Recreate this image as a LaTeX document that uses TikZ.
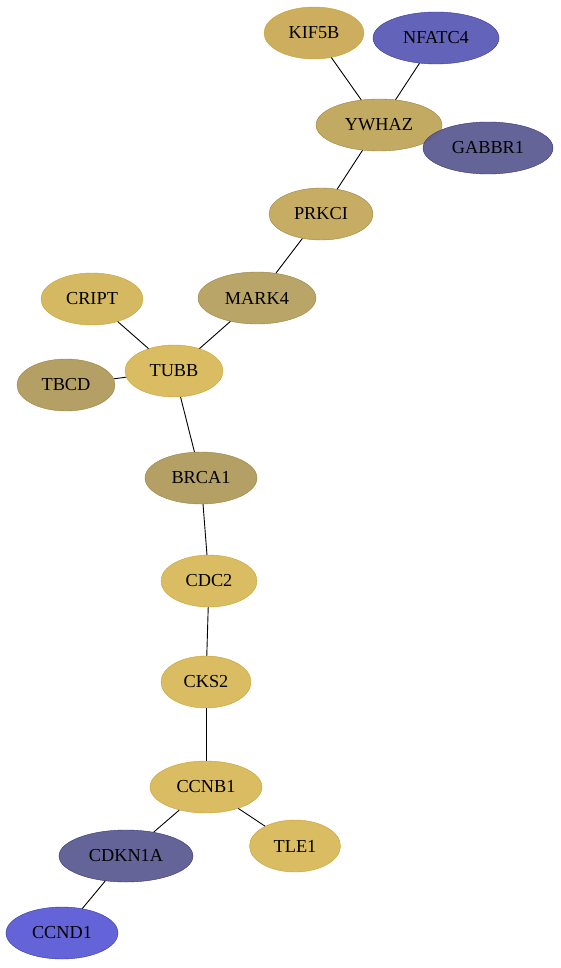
\documentclass[tikz,border=0pt]{standalone}
\usepackage{fontspec}
\setmainfont{Liberation Serif}
\usetikzlibrary{shapes.geometric}

\definecolor{goldfill}{HTML}{D8B85A}
\definecolor{goldline}{HTML}{C9A22E}
\definecolor{olivefill}{HTML}{B09A5C}
\definecolor{oliveline}{HTML}{9A8540}
\definecolor{KIF5Bc}{HTML}{C9AA55}
\definecolor{YWHAZc}{HTML}{C0A55A}
\definecolor{PRKCIc}{HTML}{C4A85C}
\definecolor{MARK4c}{HTML}{B6A060}
\definecolor{CRIPTc}{HTML}{D2B55A}
\definecolor{bluefill}{HTML}{5B5BB5}
\definecolor{blueline}{HTML}{3838A0}
\definecolor{brightblue}{HTML}{5C5CD6}
\definecolor{slatefill}{HTML}{5C5C92}
\definecolor{slateline}{HTML}{343478}

\tikzset{
  gene/.style={ellipse, draw=goldline, fill=goldfill, fill opacity=0.95, text opacity=1,
    minimum height=52pt, inner sep=0pt, font=\fontsize{18.3}{18.3}\selectfont},
  link/.style={black, line width=0.9pt}
}

\begin{document}
\begin{tikzpicture}[x=1pt, y=-1pt]
    \useasboundingbox (0,0) rectangle (560,968);

    % top cluster
    \node[gene, minimum width=100pt, fill=KIF5Bc] (kif) at (314,33) {KIF5B};
    \node[gene, minimum width=126pt, fill=bluefill, draw=blueline] (nfat) at (436,38) {NFATC4};
    \node[gene, minimum width=126pt, fill=YWHAZc, draw=oliveline] (ywhaz) at (379,125) {YWHAZ};
    \node[gene, minimum width=130pt, fill=slatefill, draw=slateline] (gabbr) at (488,148) {GABBR1};
    \node[gene, minimum width=104pt, fill=PRKCIc, draw=oliveline] (prkci) at (321,214) {PRKCI};

    % tubulin group
    \node[gene, minimum width=118pt, fill=MARK4c, draw=oliveline] (mark) at (257,298) {MARK4};
    \node[gene, minimum width=102pt, fill=CRIPTc] (cript) at (92,299) {CRIPT};
    \node[gene, minimum width=98pt] (tubb) at (174,371) {TUBB};
    \node[gene, minimum width=98pt, fill=olivefill, draw=oliveline] (tbcd) at (66,385) {TBCD};

    % chain down
    \node[gene, minimum width=112pt, fill=olivefill, draw=oliveline] (brca) at (201,478) {BRCA1};
    \node[gene, minimum width=96pt] (cdc) at (209,581) {CDC2};
    \node[gene, minimum width=90pt] (cks) at (206,682) {CKS2};
    \node[gene, minimum width=112pt] (ccnb) at (206,787) {CCNB1};
    \node[gene, minimum width=91pt] (tle) at (295,846) {TLE1};
    \node[gene, minimum width=134pt, fill=slatefill, draw=slateline] (cdkn) at (126,856) {CDKN1A};
    \node[gene, minimum width=112pt, fill=brightblue, draw=blueline] (ccnd) at (62,933) {CCND1};

    % edges
    \draw[link] (kif) -- (ywhaz);
    \draw[link] (nfat) -- (ywhaz);
    \draw[link] (ywhaz) -- (prkci);
    \draw[link] (prkci) -- (mark);
    \draw[link] (mark) -- (tubb);
    \draw[link] (cript) -- (tubb);
    \draw[link] (tbcd) -- (tubb);
    \draw[link] (tubb) -- (brca);
    \draw[link] (brca) -- (cdc);
    \draw[link] (cdc) -- (cks);
    \draw[link] (cks) -- (ccnb);
    \draw[link] (ccnb) -- (cdkn);
    \draw[link] (ccnb) -- (tle);
    \draw[link] (cdkn) -- (ccnd);
\end{tikzpicture}
\end{document}
